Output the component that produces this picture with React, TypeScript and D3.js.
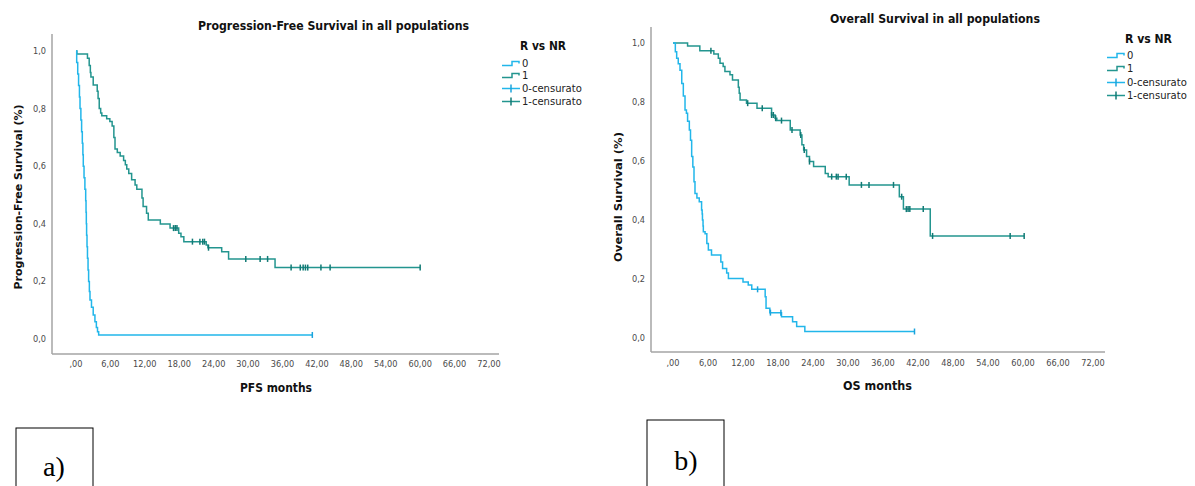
import React from "react";
import * as d3 from "d3";

// Axis ticks (months / survival proportion), Italian decimal comma
const xTicks = [0, 6, 12, 18, 24, 30, 36, 42, 48, 54, 60, 66, 72];
const xTickLabels = [",00", "6,00", "12,00", "18,00", "24,00", "30,00", "36,00", "42,00", "48,00", "54,00", "60,00", "66,00", "72,00"];
const yTicks = [0, 0.2, 0.4, 0.6, 0.8, 1.0];
const yTickLabels = ["0,0", "0,2", "0,4", "0,6", "0,8", "1,0"];
const legendTitle = "R vs NR";
const legendLabels = ["0", "1", "0-censurato", "1-censurato"];

// Progression-free survival, group 0
const pfs0Times = [0, 0.12, 0.3, 0.45, 0.6, 0.7, 0.85, 0.98, 1.1, 1.2, 1.27, 1.4, 1.55, 1.69, 1.75, 1.8, 1.85, 1.92, 2.0, 2.1, 2.2, 2.33, 2.44, 2.7, 3.0, 3.3, 3.55, 3.75, 3.95];
const pfs0Surv = [1.0, 0.96, 0.92, 0.88, 0.84, 0.8, 0.76, 0.72, 0.68, 0.64, 0.6, 0.56, 0.52, 0.48, 0.44, 0.4, 0.36, 0.32, 0.28, 0.24, 0.2, 0.165, 0.135, 0.11, 0.083, 0.06, 0.04, 0.025, 0.014];
const pfs0End = 41.2;
const pfs0Censored = [41.2];

// Progression-free survival, group 1
const pfs1Times = [0, 0.15, 2.0, 2.3, 2.5, 2.6, 3.0, 3.7, 3.85, 4.05, 4.3, 4.5, 5.35, 5.9, 6.3, 6.6, 6.8, 7.2, 7.7, 8.3, 8.6, 8.85, 9.2, 9.7, 10.3, 10.6, 11.5, 11.7, 12.3, 12.6, 14.7, 16.4, 17.9, 18.3, 18.8, 22.7, 23.0, 25.4, 26.6, 34.7];
const pfs1Surv = [1.0, 0.99, 0.975, 0.95, 0.925, 0.91, 0.882, 0.86, 0.835, 0.8, 0.785, 0.775, 0.765, 0.755, 0.74, 0.7, 0.66, 0.648, 0.635, 0.62, 0.605, 0.59, 0.575, 0.553, 0.535, 0.52, 0.49, 0.46, 0.437, 0.413, 0.399, 0.385, 0.367, 0.355, 0.338, 0.326, 0.317, 0.303, 0.278, 0.248];
const pfs1End = 60.0;
const pfs1Censored = [17.0, 17.3, 17.6, 20.3, 21.6, 22.1, 22.4, 23.1, 29.6, 32.1, 33.4, 37.5, 39.1, 39.6, 40.0, 40.4, 42.7, 44.3, 60.0];

// Overall survival, group 0
const os0Times = [0, 0.4, 0.63, 0.9, 1.2, 1.5, 1.77, 2.06, 2.3, 2.5, 2.8, 3.0, 3.2, 3.4, 3.6, 3.77, 4.1, 4.5, 4.9, 5.0, 5.05, 5.15, 5.2, 5.5, 5.8, 6.06, 6.6, 8.2, 8.5, 9.2, 9.5, 12.0, 12.9, 13.5, 15.8, 15.95, 16.6, 18.6, 20.5, 21.2, 22.6];
const os0Surv = [1.0, 0.97, 0.948, 0.93, 0.908, 0.863, 0.82, 0.773, 0.762, 0.735, 0.705, 0.67, 0.615, 0.58, 0.53, 0.49, 0.475, 0.462, 0.434, 0.42, 0.4, 0.38, 0.36, 0.353, 0.32, 0.298, 0.281, 0.258, 0.236, 0.22, 0.202, 0.19, 0.18, 0.165, 0.14, 0.101, 0.086, 0.072, 0.055, 0.039, 0.022];
const os0End = 41.4;
const os0Censored = [14.5, 16.7, 18.5, 41.4];

// Overall survival, group 1
const os1Times = [0, 2.5, 4.6, 7.0, 7.77, 8.06, 8.6, 8.9, 9.77, 10.2, 11.2, 11.35, 11.5, 12.6, 14.4, 16.9, 17.5, 17.8, 20.1, 21.8, 22.1, 22.4, 22.9, 23.4, 24.1, 26.1, 26.6, 30.2, 38.8, 39.5, 44.1];
const os1Surv = [1.0, 0.99, 0.974, 0.963, 0.948, 0.931, 0.92, 0.903, 0.892, 0.875, 0.85, 0.83, 0.807, 0.796, 0.779, 0.756, 0.745, 0.737, 0.705, 0.688, 0.655, 0.637, 0.615, 0.598, 0.581, 0.558, 0.547, 0.519, 0.479, 0.437, 0.346];
const os1End = 60.2;
const os1Censored = [6.5, 12.8, 15.3, 16.9, 17.2, 17.6, 18.6, 20.4, 21.9, 22.5, 23.4, 27.2, 28.0, 28.3, 29.7, 32.3, 33.6, 37.8, 39.2, 40.0, 40.3, 40.6, 42.9, 44.5, 57.8, 60.2];

const CYAN = "#22b6ea";
const CYAN_DARK = "#1aa3dc";
const TEAL = "#23958f";
const TEAL_DARK = "#117a75";
const AXIS = "#a5a5a5";
const TICK_TEXT = "#4a4a4a";
const SANS = "'DejaVu Sans', Verdana, sans-serif";

type Curve = {
  times: number[];
  surv: number[];
  end: number;
  censored: number[];
  color: string;
  censorColor: string;
};

type PanelCfg = {
  xRange: [number, number];
  yRange: [number, number];
  axisX: number;
  axisTop: number;
  axisY: number;
  axisRight: number;
  xTickBaseline: number;
  title: string;
  titleX: number;
  titleW: number;
  titleY: number;
  yLabel: string;
  yLabelX: number;
  yLabelCY: number;
  yLabelW: number;
  xLabel: string;
  xLabelX: number;
  xLabelW: number;
  xLabelY: number;
  legendX: number;
  legendTitleX: number;
  legendTitleW: number;
  legendTitleY: number;
  legendBaselines: number[];
  curves: Curve[];
};

function survivalAt(c: Curve, t: number): number {
  let s = c.surv[0];
  for (let i = 0; i < c.times.length; i++) if (c.times[i] <= t) s = c.surv[i];
  return s;
}

function Panel({ cfg }: { cfg: PanelCfg }) {
  const x = d3.scaleLinear().domain([0, 72]).range(cfg.xRange);
  const y = d3.scaleLinear().domain([0, 1]).range(cfg.yRange);
  const line = d3
    .line<[number, number]>()
    .x((d) => x(d[0]))
    .y((d) => y(d[1]))
    .curve(d3.curveStepAfter);

  return (
    <g>
      <text x={cfg.titleX} y={cfg.titleY} fontFamily={SANS} fontWeight="bold" fontSize={12.5}
        textLength={cfg.titleW} lengthAdjust="spacingAndGlyphs" fill="#111">{cfg.title}</text>

      <line x1={cfg.axisX} x2={cfg.axisX} y1={cfg.axisTop} y2={cfg.axisY} stroke={AXIS} strokeWidth={1.5} />
      <line x1={cfg.axisX} x2={cfg.axisRight} y1={cfg.axisY} y2={cfg.axisY} stroke={AXIS} strokeWidth={1.5} />

      {yTicks.map((v, i) => (
        <text key={"y" + i} x={cfg.axisX - 6} y={y(v) + 3} textAnchor="end" fontFamily={SANS}
          fontSize={8.2} fill={TICK_TEXT}>{yTickLabels[i]}</text>
      ))}
      {xTicks.map((v, i) => (
        <text key={"x" + i} x={x(v)} y={cfg.xTickBaseline} textAnchor="middle" fontFamily={SANS}
          fontSize={8.2} fill={TICK_TEXT}>{xTickLabels[i]}</text>
      ))}

      <text transform={`translate(${cfg.yLabelX},${cfg.yLabelCY}) rotate(-90)`} textAnchor="middle"
        fontFamily={SANS} fontWeight="bold" fontSize={11} textLength={cfg.yLabelW}
        lengthAdjust="spacingAndGlyphs" fill="#111">{cfg.yLabel}</text>
      <text x={cfg.xLabelX} y={cfg.xLabelY} fontFamily={SANS} fontWeight="bold" fontSize={12}
        textLength={cfg.xLabelW} lengthAdjust="spacingAndGlyphs" fill="#111">{cfg.xLabel}</text>

      {cfg.curves.map((c, k) => {
        const pts: [number, number][] = c.times.map((t, i) => [t, c.surv[i]] as [number, number]);
        pts.push([c.end, c.surv[c.surv.length - 1]]);
        return (
          <g key={"c" + k}>
            <path d={line(pts) ?? ""} fill="none" stroke={c.color} strokeWidth={1.5} />
            {c.censored.map((t, j) => {
              const cy = y(survivalAt(c, t));
              return (
                <line key={j} x1={x(t)} x2={x(t)} y1={cy - 3} y2={cy + 3} stroke={c.censorColor} strokeWidth={1.5} />
              );
            })}
          </g>
        );
      })}

      <text x={cfg.legendTitleX} y={cfg.legendTitleY} fontFamily={SANS} fontWeight="bold" fontSize={11.5}
        textLength={cfg.legendTitleW} lengthAdjust="spacingAndGlyphs" fill="#111">{legendTitle}</text>
      {legendLabels.map((lab, i) => {
        const by = cfg.legendBaselines[i];
        const cy = by - 3.5;
        const lx = cfg.legendX;
        const col = i % 2 === 0 ? CYAN : TEAL;
        const colDark = i % 2 === 0 ? CYAN_DARK : TEAL_DARK;
        return (
          <g key={"l" + i}>
            {i < 2 ? (
              <path d={`M${lx},${cy + 2}H${lx + 10}V${cy - 2}H${lx + 17}V${cy}`} fill="none" stroke={col} strokeWidth={1.5} />
            ) : (
              <g>
                <line x1={lx} x2={lx + 18} y1={cy} y2={cy} stroke={col} strokeWidth={1.5} />
                <line x1={lx + 9} x2={lx + 9} y1={cy - 4} y2={cy + 4} stroke={colDark} strokeWidth={1.5} />
              </g>
            )}
            <text x={lx + 20} y={by} fontFamily={SANS} fontSize={10} fill="#222">{lab}</text>
          </g>
        );
      })}
    </g>
  );
}

const pfsPanel: PanelCfg = {
  xRange: [76, 489],
  yRange: [339, 51],
  axisX: 52,
  axisTop: 34,
  axisY: 354,
  axisRight: 499,
  xTickBaseline: 367,
  title: "Progression-Free Survival in all populations",
  titleX: 198,
  titleW: 271,
  titleY: 30,
  yLabel: "Progression-Free Survival (%)",
  yLabelX: 22,
  yLabelCY: 197,
  yLabelW: 185,
  xLabel: "PFS months",
  xLabelX: 240,
  xLabelW: 72,
  xLabelY: 392,
  legendX: 502,
  legendTitleX: 520,
  legendTitleW: 46,
  legendTitleY: 50,
  legendBaselines: [67, 79, 92, 105],
  curves: [
    { times: pfs1Times, surv: pfs1Surv, end: pfs1End, censored: pfs1Censored, color: TEAL, censorColor: TEAL_DARK },
    { times: pfs0Times, surv: pfs0Surv, end: pfs0End, censored: pfs0Censored, color: CYAN, censorColor: CYAN_DARK },
  ],
};

const osPanel: PanelCfg = {
  xRange: [673, 1093],
  yRange: [338, 43],
  axisX: 651,
  axisTop: 27,
  axisY: 352,
  axisRight: 1105,
  xTickBaseline: 366,
  title: "Overall Survival in all populations",
  titleX: 830,
  titleW: 210,
  titleY: 23,
  yLabel: "Overall Survival (%)",
  yLabelX: 622,
  yLabelCY: 197,
  yLabelW: 130,
  xLabel: "OS months",
  xLabelX: 843,
  xLabelW: 69,
  xLabelY: 390,
  legendX: 1107,
  legendTitleX: 1125,
  legendTitleW: 47,
  legendTitleY: 43,
  legendBaselines: [59, 72, 86, 99],
  curves: [
    { times: os1Times, surv: os1Surv, end: os1End, censored: os1Censored, color: TEAL, censorColor: TEAL_DARK },
    { times: os0Times, surv: os0Surv, end: os0End, censored: os0Censored, color: CYAN, censorColor: CYAN_DARK },
  ],
};

export default function App() {
  return (
    <svg width={1195} height={486} viewBox="0 0 1195 486"
      style={{ position: "absolute", left: 0, top: 0, display: "block", background: "#fff" }}>
      <rect x={0} y={0} width={1195} height={486} fill="#fff" />
      <Panel cfg={pfsPanel} />
      <Panel cfg={osPanel} />

      {/* panel captions */}
      <rect x={16} y={428} width={77} height={80} fill="none" stroke="#000" strokeWidth={1} />
      <text x={54} y={476} textAnchor="middle" fontFamily="'Liberation Serif', 'DejaVu Serif', serif" fontSize={28} fill="#000">a)</text>
      <rect x={647} y={420} width={77} height={80} fill="none" stroke="#000" strokeWidth={1} />
      <text x={686} y={470} textAnchor="middle" fontFamily="'Liberation Serif', 'DejaVu Serif', serif" fontSize={28} fill="#000">b)</text>
    </svg>
  );
}
